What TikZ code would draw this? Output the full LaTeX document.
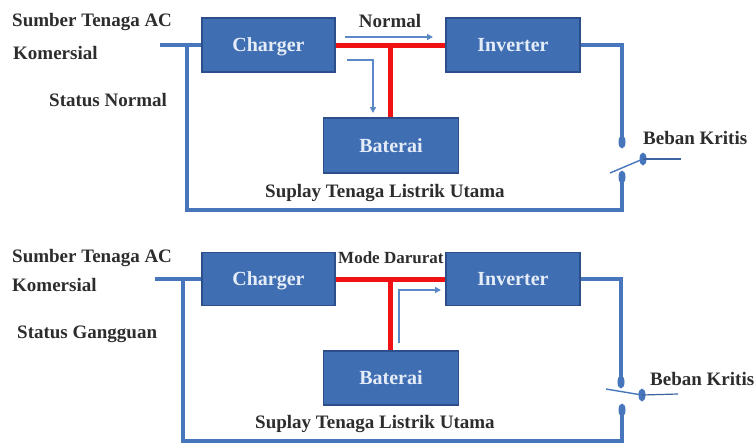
\documentclass[tikz,border=0pt]{standalone}
\usepackage{fontspec}
\setmainfont{Liberation Serif}
\usetikzlibrary{arrows.meta,shapes.geometric}
\definecolor{boxfill}{RGB}{64,110,178}
\definecolor{boxedge}{RGB}{44,78,138}
\definecolor{wireblue}{RGB}{72,118,188}
\definecolor{thinblue}{RGB}{92,136,200}
\definecolor{hotred}{RGB}{240,18,18}
\definecolor{labelgray}{RGB}{45,45,45}
\definecolor{boxtext}{RGB}{228,236,248}
\tikzset{
  unitbox/.style={draw=boxedge, line width=1.6pt, fill=boxfill, inner sep=0pt,
    text=boxtext, font=\fontsize{20}{20}\selectfont\bfseries,
    text height=13pt, text depth=0pt},
  lbl/.style={inner sep=0pt, text=labelgray, font=\fontsize{19}{19}\selectfont\bfseries},
  wire/.style={draw=wireblue, line width=4pt},
  redwire/.style={draw=hotred, line width=5pt},
  flow/.style={draw=thinblue, line width=1.4pt, -{Triangle[length=6pt,width=6pt]}},
  contact/.style={ellipse, fill=wireblue, inner sep=0pt, minimum width=7pt, minimum height=13pt},
  blade/.style={draw=wireblue, line width=1.4pt},
  outwire/.style={draw=wireblue!85!black, line width=1.2pt}
}
\begin{document}
\begin{tikzpicture}[x=1pt,y=-1pt]
\useasboundingbox (0,0) rectangle (756,445);
\fill[white] (0,0) rectangle (756,445);

% ================= TOP PANEL =================
\node[unitbox, minimum width=133pt, minimum height=54pt] (chg1) at (268.5,45) {Charger};
\node[unitbox, minimum width=134pt, minimum height=54pt] (inv1) at (513,45) {Inverter};
\node[unitbox, minimum width=135pt, minimum height=55pt] (bat1) at (391,145.5) {Baterai};

\node[lbl, anchor=base west] (src1a) at (12,26) {Sumber Tenaga AC};
\node[lbl, anchor=base west] (src1b) at (13,59) {Komersial};
\node[lbl, anchor=base west] (stat1) at (49,106) {Status Normal};
\node[lbl, anchor=base] (mode1) at (390,27) {Normal};
\node[lbl, anchor=base west] (sup1) at (265,197) {Suplay Tenaga Listrik Utama};
\node[lbl, anchor=base west] (load1) at (643,144) {Beban Kritis};

\coordinate (in1) at (160,45);
\coordinate (tap1) at (187,45);
\coordinate (bl1) at (187,210);
\coordinate (br1) at (622,210);
\coordinate (tr1) at (622,45);
\node[contact] (c1up) at (622,142) {};
\node[contact] (c1dn) at (622,177) {};
\node[contact] (c1mv) at (643,159) {};
\coordinate (bladeA1) at (610,173);
\coordinate (out1) at (681,159);

\draw[wire] (in1) -- (chg1.west);
\draw[wire] (tap1) -- (bl1) -- (br1) -- (c1dn.center);
\draw[wire] (inv1.east) -- (tr1) -- (c1up.center);
\draw[blade] (bladeA1) -- (c1mv.center);
\draw[outwire] (c1mv.center) -- (out1);

\coordinate (j1) at (390,45);
\draw[redwire] (chg1.east) -- (inv1.west);
\draw[redwire] (j1) -- (j1 |- bat1.north);

\coordinate (f1a) at (345,37);
\coordinate (f1b) at (433,37);
\draw[flow] (f1a) -- (f1b);
\coordinate (f2a) at (347,60);
\coordinate (f2b) at (373,60);
\coordinate (f2c) at (373,113);
\draw[flow] (f2a) -- (f2b) -- (f2c);

% ================= BOTTOM PANEL =================
\node[unitbox, minimum width=133pt, minimum height=53pt] (chg2) at (268.5,279) {Charger};
\node[unitbox, minimum width=134pt, minimum height=53pt] (inv2) at (513,279) {Inverter};
\node[unitbox, minimum width=135pt, minimum height=54pt] (bat2) at (391,378) {Baterai};

\node[lbl, anchor=base west] (src2a) at (12,262) {Sumber Tenaga AC};
\node[lbl, anchor=base west] (src2b) at (12,291) {Komersial};
\node[lbl, anchor=base west] (stat2) at (17,338) {Status Gangguan};
\node[lbl, anchor=base west, font=\fontsize{17}{17}\selectfont\bfseries] (mode2) at (338,263) {Mode Darurat};
\node[lbl, anchor=base west] (sup2) at (255,428) {Suplay Tenaga Listrik Utama};
\node[lbl, anchor=base west] (load2) at (650,385) {Beban Kritis};

\coordinate (in2) at (155,279);
\coordinate (tap2) at (183,279);
\coordinate (bl2) at (183,441);
\coordinate (br2) at (622,441);
\coordinate (tr2) at (621,279);
\node[contact] (c2up) at (621,382) {};
\node[contact] (c2dn) at (622,410) {};
\node[contact] (c2mv) at (642,395) {};
\coordinate (bladeA2) at (606,389);
\coordinate (out2) at (678,394);

\draw[wire] (in2) -- (chg2.west);
\draw[wire] (tap2) -- (bl2) -- (br2) -- (c2dn.center);
\draw[wire] (inv2.east) -- (tr2) -- (c2up.center);
\draw[blade] (bladeA2) -- (c2mv.center);
\draw[outwire] (c2mv.center) -- (out2);

\coordinate (j2) at (390,279);
\draw[redwire] (chg2.east) -- (inv2.west);
\draw[redwire] (j2) -- (j2 |- bat2.north);

\coordinate (f3a) at (399,343);
\coordinate (f3b) at (399,290);
\coordinate (f3c) at (441,290);
\draw[flow] (f3a) -- (f3b) -- (f3c);
\end{tikzpicture}
\end{document}
